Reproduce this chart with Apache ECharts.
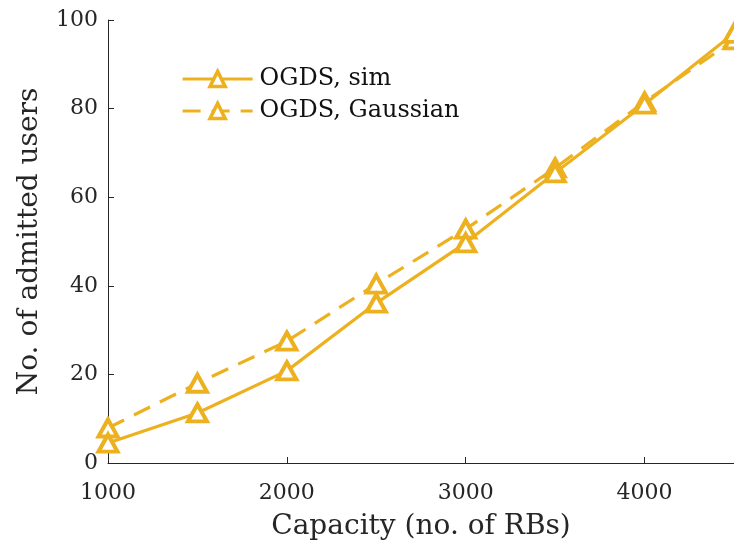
<!DOCTYPE html>
<html>
<head>
<meta charset="utf-8">
<script src="https://cdn.jsdelivr.net/npm/echarts@6/dist/echarts.min.js"></script>
<style>html,body{margin:0;padding:0;background:#fff}#c{width:734px;height:550px}</style>
</head>
<body>
<div id="c"></div>
<script>
var capacity = [1000, 1500, 2000, 2500, 3000, 3500, 4000, 4500];
var simUsers = [4.5, 11.3, 20.8, 36.1, 49.7, 65.5, 81.0, 97.0];
var gaussUsers = [7.9, 18.0, 27.5, 40.4, 52.8, 66.6, 81.5, 95.5];
var xTicks = [1000, 2000, 3000, 4000];
var yTicks = [0, 20, 40, 60, 80, 100];
var seriesNames = ['OGDS, sim', 'OGDS, Gaussian'];

var color = '#EDB120';
var font = '"DejaVu Serif", "Liberation Serif", serif';
function pairs(xs, ys){ return xs.map(function(x,i){ return [x, ys[i]]; }); }

var chart = echarts.init(document.getElementById('c'));
chart.setOption({
  animation: false,
  backgroundColor: '#fff',
  grid: {left: 108, top: 20, right: -4, bottom: 87, containLabel: false},
  legend: {
    left: 176, top: 62, orient: 'vertical', itemGap: 8,
    itemWidth: 70, itemHeight: 19,
    lineStyle: {width: 3.2},
    itemStyle: {borderWidth: 3.5},
    textStyle: {fontFamily: font, fontSize: 24, color: '#111', padding: [0, 0, 0, 2]},
    data: seriesNames
  },
  xAxis: {
    type: 'value', min: 1000, max: 4500, interval: 1000,
    name: 'Capacity (no. of RBs)', nameLocation: 'middle', nameGap: 50,
    nameTextStyle: {fontFamily: font, fontSize: 28, color: '#262626'},
    axisLine: {lineStyle: {color: '#262626', width: 1}},
    axisTick: {inside: true, length: 6, lineStyle: {color: '#262626'}},
    axisLabel: {fontFamily: font, fontSize: 22, color: '#262626', margin: 19, showMaxLabel: false,
      formatter: function(v){ return xTicks.indexOf(v) >= 0 ? String(v) : ''; }},
    splitLine: {show: false}
  },
  yAxis: {
    type: 'value', min: 0, max: 100, interval: 20,
    name: 'No. of admitted users', nameLocation: 'middle', nameGap: 64,
    nameTextStyle: {fontFamily: font, fontSize: 28, color: '#262626'},
    axisLine: {show: true, lineStyle: {color: '#262626', width: 1}},
    axisTick: {show: true, inside: true, length: 6, lineStyle: {color: '#262626'}},
    axisLabel: {fontFamily: font, fontSize: 22, color: '#262626', margin: 10,
      formatter: function(v){ return yTicks.indexOf(v) >= 0 ? String(v) : ''; }},
    splitLine: {show: false}
  },
  series: [
    {
      name: seriesNames[0], type: 'line', data: pairs(capacity, simUsers),
      symbol: 'triangle', symbolSize: [19, 17], showAllSymbol: true,
      lineStyle: {color: color, width: 3.2},
      itemStyle: {color: '#fff', borderColor: color, borderWidth: 4},
      clip: false, z: 3
    },
    {
      name: seriesNames[1], type: 'line', data: pairs(capacity, gaussUsers),
      symbol: 'triangle', symbolSize: [19, 17], showAllSymbol: true,
      lineStyle: {color: color, width: 3.2, type: [18, 11]},
      itemStyle: {color: '#fff', borderColor: color, borderWidth: 4},
      clip: false, z: 2
    }
  ]
});
</script>
</body>
</html>
